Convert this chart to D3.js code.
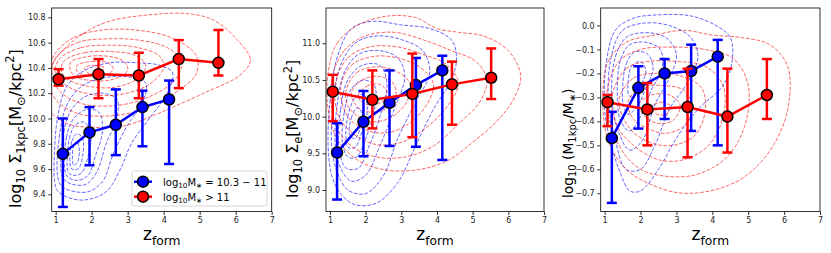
<!DOCTYPE html>
<html>
<head>
<meta charset="utf-8">
<script src="https://cdn.jsdelivr.net/npm/d3@7"></script>
<style>
  body { margin: 0; background: #fff; }
  text { font-family: "DejaVu Sans", sans-serif; }
</style>
</head>
<body>
<script>
// formation redshift of the bins
zBlue = [1.20, 1.94, 2.67, 3.41, 4.15]
zRed = [1.08, 2.19, 3.31, 4.42, 5.52]

// panel 1: log Sigma_1kpc
s1Blue = [9.72, 9.89, 9.95, 10.09, 10.15]
s1BlueLo = [9.30, 9.63, 9.71, 9.78, 9.64]
s1BlueHi = [10.00, 10.09, 10.23, 10.22, 10.30]
s1Red = [10.31, 10.35, 10.34, 10.47, 10.44]
s1RedLo = [10.26, 10.16, 10.16, 10.24, 10.34]
s1RedHi = [10.39, 10.47, 10.52, 10.62, 10.70]

// panel 2: log Sigma_e
seBlue = [9.51, 9.93, 10.19, 10.43, 10.63]
seBlueLo = [8.87, 9.46, 9.60, 9.59, 9.41]
seBlueHi = [9.91, 10.35, 10.63, 10.80, 10.83]
seRed = [10.34, 10.23, 10.31, 10.44, 10.53]
seRedLo = [9.94, 9.84, 9.72, 9.89, 10.24]
seRedHi = [10.57, 10.63, 10.86, 10.75, 10.93]

// panel 3: log M_1kpc/M_*
frBlue = [-0.47, -0.26, -0.20, -0.19, -0.13]
frBlueLo = [-0.74, -0.43, -0.39, -0.44, -0.50]
frBlueHi = [-0.36, -0.17, -0.14, -0.08, -0.06]
frRed = [-0.32, -0.35, -0.34, -0.38, -0.29]
frRedLo = [-0.42, -0.50, -0.55, -0.53, -0.39]
frRedHi = [-0.29, -0.24, -0.18, -0.18, -0.14]

xTicks = [1, 2, 3, 4, 5, 6, 7]
s1Ticks = [9.4, 9.6, 9.8, 10.0, 10.2, 10.4, 10.6, 10.8]
seTicks = [9.0, 9.5, 10.0, 10.5, 11.0]
frTicks = [0.0, -0.1, -0.2, -0.3, -0.4, -0.5, -0.6, -0.7]

legendLabels = [["log", ["10", "sub"], "M", ["∗", "sub"], " = 10.3 − 11"],
                ["log", ["10", "sub"], "M", ["∗", "sub"], " > 11"]]

// density contours (outer to inner)
c1Red = [
  [[1.02,10.48],[1.76,10.67],[2.5,10.77],[3.61,10.82],[4.63,10.83],[5.37,10.78],[6.02,10.63],[6.41,10.46],[6.11,10.34],[5.19,10.21],[4.26,10.09],[3.52,10.0],[2.87,9.94],[2.04,9.93],[1.3,9.96],[0.83,10.07],[0.74,10.28]],
  [[0.95,10.5],[1.5,10.64],[2.3,10.7],[3.2,10.7],[4.2,10.64],[4.9,10.5],[4.9,10.35],[4.3,10.2],[3.4,10.07],[2.5,10.02],[1.6,10.04],[1.0,10.15],[0.8,10.32]],
  [[1.0,10.48],[1.6,10.6],[2.4,10.63],[3.3,10.62],[4.1,10.56],[4.5,10.45],[4.3,10.3],[3.5,10.16],[2.6,10.1],[1.7,10.12],[1.1,10.22],[0.9,10.36]],
  [[1.1,10.47],[1.7,10.56],[2.5,10.58],[3.3,10.56],[3.9,10.49],[4.0,10.4],[3.6,10.27],[2.8,10.19],[2.0,10.19],[1.3,10.26],[1.0,10.37]],
  [[1.25,10.46],[1.8,10.52],[2.5,10.53],[3.2,10.5],[3.5,10.42],[3.3,10.32],[2.7,10.25],[2.0,10.25],[1.4,10.3],[1.15,10.38]],
  [[1.4,10.44],[1.9,10.49],[2.5,10.49],[2.9,10.45],[3.0,10.38],[2.6,10.31],[2.0,10.3],[1.5,10.34]],
  [[1.6,10.42],[2.0,10.45],[2.45,10.44],[2.6,10.39],[2.35,10.34],[1.9,10.34],[1.6,10.37]],
  [[1.8,10.4],[2.1,10.42],[2.35,10.4],[2.2,10.36],[1.9,10.36]]
]
c1Blue = [
  [[0.97,9.5],[0.97,9.75],[1.05,10.0],[1.3,10.25],[1.8,10.38],[2.5,10.44],[3.3,10.44],[3.9,10.42],[4.25,10.36],[4.1,10.2],[3.6,10.0],[3.1,9.8],[2.8,9.6],[2.4,9.42],[1.8,9.355],[1.3,9.38],[1.05,9.43]],
  [[1.05,9.55],[1.1,9.85],[1.3,10.1],[1.7,10.25],[2.3,10.32],[3.0,10.33],[3.5,10.28],[3.4,10.12],[3.0,9.95],[2.6,9.72],[2.3,9.5],[1.9,9.42],[1.4,9.43],[1.15,9.47]],
  [[1.15,9.58],[1.2,9.85],[1.4,10.05],[1.8,10.17],[2.3,10.2],[2.7,10.15],[2.7,10.0],[2.4,9.8],[2.15,9.58],[1.85,9.48],[1.45,9.48],[1.22,9.52]],
  [[1.25,9.6],[1.3,9.85],[1.5,10.0],[1.85,10.07],[2.2,10.05],[2.3,9.9],[2.1,9.7],[1.9,9.55],[1.6,9.51],[1.33,9.54]],
  [[1.32,9.62],[1.38,9.84],[1.55,9.95],[1.8,9.97],[1.98,9.88],[1.9,9.7],[1.72,9.57],[1.5,9.55],[1.36,9.57]],
  [[1.4,9.64],[1.45,9.82],[1.6,9.88],[1.75,9.84],[1.75,9.7],[1.62,9.6],[1.45,9.6]],
  [[1.47,9.66],[1.5,9.78],[1.6,9.81],[1.66,9.74],[1.6,9.65],[1.5,9.63]]
]
c2Red = [
  [[0.95,10.6],[1.2,11.0],[1.8,11.25],[2.6,11.37],[3.4,11.35],[4.0,11.2],[4.6,11.15],[5.3,11.1],[6.0,10.9],[6.35,10.55],[6.1,10.2],[5.6,9.9],[5.0,9.65],[4.3,9.4],[3.5,9.28],[2.6,9.27],[1.8,9.4],[1.2,9.7],[0.95,10.1]],
  [[1.05,10.5],[1.4,10.9],[2.0,11.1],[2.8,11.15],[3.6,11.05],[4.4,10.9],[5.1,10.75],[5.4,10.5],[5.2,10.2],[4.6,9.9],[3.9,9.6],[3.1,9.45],[2.3,9.45],[1.6,9.6],[1.15,9.9]],
  [[1.15,10.45],[1.5,10.8],[2.1,10.95],[2.9,10.95],[3.6,10.85],[4.3,10.7],[4.6,10.45],[4.3,10.15],[3.7,9.85],[3.0,9.65],[2.3,9.62],[1.7,9.75],[1.25,10.0]],
  [[1.3,10.4],[1.6,10.7],[2.2,10.82],[2.9,10.8],[3.5,10.68],[3.9,10.45],[3.7,10.15],[3.2,9.9],[2.6,9.78],[2.0,9.82],[1.5,10.0]],
  [[1.45,10.35],[1.75,10.6],[2.3,10.68],[2.85,10.62],[3.25,10.45],[3.15,10.2],[2.75,10.0],[2.25,9.93],[1.8,10.0],[1.5,10.15]],
  [[1.6,10.32],[1.9,10.5],[2.35,10.55],[2.75,10.47],[2.85,10.3],[2.6,10.12],[2.2,10.06],[1.8,10.12]],
  [[1.8,10.3],[2.05,10.42],[2.4,10.44],[2.6,10.33],[2.45,10.2],[2.1,10.16],[1.85,10.22]]
]
c2Blue = [
  [[0.95,9.6],[1.0,10.2],[1.2,10.8],[1.6,11.2],[2.2,11.3],[3.0,11.25],[3.8,11.2],[4.4,11.05],[4.55,10.8],[4.4,10.5],[3.9,10.1],[3.4,9.6],[2.9,9.1],[2.3,8.82],[1.7,8.8],[1.3,8.95],[1.05,9.2]],
  [[1.05,9.6],[1.1,10.2],[1.3,10.7],[1.7,11.0],[2.3,11.1],[3.0,11.05],[3.6,10.9],[3.8,10.6],[3.4,10.2],[2.9,9.7],[2.5,9.2],[2.0,8.95],[1.5,9.0],[1.2,9.25]],
  [[1.15,9.6],[1.2,10.15],[1.4,10.6],[1.8,10.85],[2.4,10.9],[2.9,10.8],[3.1,10.55],[2.8,10.1],[2.4,9.6],[2.0,9.2],[1.6,9.12],[1.3,9.3]],
  [[1.25,9.6],[1.3,10.1],[1.5,10.5],[1.9,10.7],[2.4,10.7],[2.6,10.45],[2.4,10.0],[2.1,9.6],[1.8,9.3],[1.45,9.3]],
  [[1.35,9.65],[1.4,10.05],[1.6,10.38],[1.95,10.5],[2.25,10.42],[2.25,10.1],[2.0,9.7],[1.75,9.45],[1.5,9.45]],
  [[1.45,9.7],[1.5,10.0],[1.7,10.25],[1.95,10.3],[2.05,10.1],[1.9,9.8],[1.7,9.58],[1.52,9.58]],
  [[1.55,9.75],[1.6,9.98],[1.75,10.12],[1.9,10.05],[1.85,9.85],[1.7,9.7]]
]
c3Red = [
  [[0.95,-0.3],[1.1,-0.15],[1.6,-0.07],[2.4,-0.04],[3.2,-0.02],[4.0,-0.04],[4.8,-0.05],[5.6,-0.08],[6.1,-0.17],[6.1,-0.35],[5.7,-0.5],[5.0,-0.62],[4.2,-0.68],[3.2,-0.7],[2.4,-0.67],[1.6,-0.6],[1.1,-0.48]],
  [[1.05,-0.3],[1.4,-0.15],[2.0,-0.1],[2.9,-0.09],[3.8,-0.1],[4.6,-0.14],[5.0,-0.25],[4.9,-0.42],[4.4,-0.55],[3.6,-0.62],[2.8,-0.63],[2.0,-0.6],[1.4,-0.5]],
  [[1.2,-0.3],[1.6,-0.18],[2.2,-0.15],[3.0,-0.15],[3.8,-0.17],[4.3,-0.25],[4.3,-0.38],[3.9,-0.5],[3.2,-0.56],[2.5,-0.56],[1.8,-0.5],[1.35,-0.42]],
  [[1.4,-0.31],[1.8,-0.22],[2.4,-0.2],[3.1,-0.21],[3.7,-0.26],[3.8,-0.36],[3.5,-0.46],[2.9,-0.5],[2.3,-0.49],[1.7,-0.43]],
  [[1.65,-0.32],[2.0,-0.26],[2.6,-0.25],[3.2,-0.27],[3.45,-0.34],[3.2,-0.42],[2.7,-0.45],[2.2,-0.43],[1.8,-0.39]],
  [[1.95,-0.33],[2.3,-0.29],[2.8,-0.29],[3.1,-0.33],[2.95,-0.39],[2.6,-0.41],[2.2,-0.39]],
  [[2.3,-0.34],[2.6,-0.32],[2.85,-0.34],[2.7,-0.37],[2.45,-0.37]]
]
c3Blue = [
  [[1.0,-0.35],[1.05,-0.15],[1.3,-0.02],[1.8,0.03],[2.6,0.045],[3.4,0.04],[4.1,0.0],[4.5,-0.05],[4.55,-0.15],[4.3,-0.25],[3.6,-0.35],[3.0,-0.47],[2.5,-0.6],[2.0,-0.69],[1.7,-0.69],[1.4,-0.6],[1.15,-0.48]],
  [[1.1,-0.3],[1.2,-0.12],[1.5,-0.02],[2.1,0.01],[2.8,0.0],[3.4,-0.05],[3.6,-0.13],[3.3,-0.24],[2.8,-0.35],[2.4,-0.5],[2.0,-0.6],[1.6,-0.6],[1.3,-0.48]],
  [[1.2,-0.3],[1.3,-0.13],[1.6,-0.05],[2.1,-0.03],[2.7,-0.05],[3.0,-0.12],[2.8,-0.22],[2.4,-0.33],[2.05,-0.48],[1.7,-0.52],[1.4,-0.45]],
  [[1.35,-0.28],[1.45,-0.14],[1.7,-0.08],[2.15,-0.07],[2.55,-0.1],[2.6,-0.18],[2.3,-0.27],[2.0,-0.38],[1.7,-0.44],[1.45,-0.4]],
  [[1.5,-0.27],[1.6,-0.16],[1.85,-0.11],[2.2,-0.12],[2.35,-0.18],[2.15,-0.26],[1.9,-0.34],[1.65,-0.37],[1.52,-0.33]],
  [[1.65,-0.25],[1.75,-0.17],[2.0,-0.15],[2.15,-0.19],[2.0,-0.25],[1.8,-0.3],[1.67,-0.29]]
]

svgWidth = 831
svgHeight = 253
plotTop = 8
plotBottom = 211.5
BLUE = "#0000ff"
RED = "#ff0000"

panels = [
  { left: 51.7, right: 271.7, ydom: [9.264, 10.874], yticks: s1Ticks,
    blue: [s1Blue, s1BlueLo, s1BlueHi], red: [s1Red, s1RedLo, s1RedHi],
    cBlue: c1Blue, cRed: c1Red, labelX: 20.5, labelY: 208, labelSize: 16,
    label: ["log", ["10", "sub"], " Σ", ["1kpc", "sub"], "[M", ["⊙", "sub"], "/kpc", ["2", "sup"], "]"],
    legend: true },
  { left: 326, right: 544, ydom: [8.707, 11.481], yticks: seTicks,
    blue: [seBlue, seBlueLo, seBlueHi], red: [seRed, seRedLo, seRedHi],
    cBlue: c2Blue, cRed: c2Red, labelX: 298, labelY: 198, labelSize: 16,
    label: ["log", ["10", "sub"], " Σ", ["e", "sub"], "[M", ["⊙", "sub"], "/kpc", ["2", "sup"], "]"] },
  { left: 600.7, right: 820, ydom: [-0.776, 0.073], yticks: frTicks,
    blue: [frBlue, frBlueLo, frBlueHi], red: [frRed, frRedLo, frRedHi],
    cBlue: c3Blue, cRed: c3Red, labelX: 572.5, labelY: 198, labelSize: 13.8,
    label: ["log", ["10", "sub"], " (M", ["1kpc", "sub"], "/M", ["∗", "sub"], ")"] }
]

svg = d3.select("body").append("svg").attr("width", svgWidth).attr("height", svgHeight)

// write mathtext-like segments into a text node with tspans
function rich(text, segs, size) {
  let shift = 0
  segs.forEach(s => {
    const [t, kind] = typeof s === "string" ? [s, null] : s
    const target = kind === "sub" ? size * 0.28 : kind === "sup" ? -size * 0.4 : 0
    text.append("tspan")
      .attr("dy", target - shift)
      .attr("font-size", kind ? size * 0.72 : size)
      .text(t)
    shift = target
  })
}

function drawSeries(g, x, y, zs, vals, color) {
  const [v, lo, hi] = vals
  const pts = zs.map((z, i) => ({ z, v: v[i], lo: lo[i], hi: hi[i] }))
  const eb = g.append("g").attr("stroke", color).attr("stroke-width", 2.5)
  eb.selectAll(".bar").data(pts).join("line")
    .attr("x1", d => x(d.z)).attr("x2", d => x(d.z))
    .attr("y1", d => y(d.lo)).attr("y2", d => y(d.hi))
  eb.selectAll(".cap").data(pts.flatMap(d => [d.lo, d.hi].map(c => ({ z: d.z, c })))).join("line")
    .attr("x1", d => x(d.z) - 5).attr("x2", d => x(d.z) + 5)
    .attr("y1", d => y(d.c)).attr("y2", d => y(d.c))
  g.append("path").datum(pts)
    .attr("fill", "none").attr("stroke", color).attr("stroke-width", 2.5)
    .attr("d", d3.line().x(d => x(d.z)).y(d => y(d.v)))
  g.selectAll(null).data(pts).join("circle")
    .attr("cx", d => x(d.z)).attr("cy", d => y(d.v)).attr("r", 5.5)
    .attr("fill", color).attr("stroke", "#000").attr("stroke-width", 1.5)
}

panels.forEach((p, k) => {
  const x = d3.scaleLinear().domain([0.89, 7]).range([p.left, p.right])
  const y = d3.scaleLinear().domain(p.ydom).range([plotBottom, plotTop])
  const g = svg.append("g")

  const clipId = "clip" + k
  svg.append("clipPath").attr("id", clipId).append("rect")
    .attr("x", p.left).attr("y", plotTop).attr("width", p.right - p.left).attr("height", plotBottom - plotTop)

  const contour = d3.line().x(d => x(d[0])).y(d => y(d[1])).curve(d3.curveCatmullRomClosed.alpha(0.5))
  const cg = g.append("g").attr("clip-path", `url(#${clipId})`)
  ;[[p.cBlue, BLUE], [p.cRed, RED]].forEach(([levels, color]) => {
    cg.selectAll(null).data(levels).join("path")
      .attr("d", contour)
      .attr("fill", "none").attr("stroke", color).attr("stroke-opacity", 0.6)
      .attr("stroke-width", 1).attr("stroke-dasharray", "3.7,1.6")
  })

  drawSeries(g, x, y, zBlue, p.blue, BLUE)
  drawSeries(g, x, y, zRed, p.red, RED)

  // axes
  const xa = g.append("g").attr("transform", `translate(0,${plotBottom})`)
    .call(d3.axisBottom(x).tickValues(xTicks).tickSize(3.5).tickPadding(2.5).tickFormat(d3.format("d")))
  const ya = g.append("g").attr("transform", `translate(${p.left},0)`)
    .call(d3.axisLeft(y).tickValues(p.yticks).tickSize(3.5).tickPadding(2.5).tickFormat(d3.format(".1f")))
  ;[xa, ya].forEach(a => {
    a.select(".domain").remove()
    a.selectAll("line").attr("stroke", "#000").attr("stroke-width", 0.8)
    a.selectAll("text").attr("font-size", 8).attr("fill", "#222")
      .attr("font-family", "DejaVu Sans")
  })
  g.append("rect").attr("x", p.left).attr("y", plotTop)
    .attr("width", p.right - p.left).attr("height", plotBottom - plotTop)
    .attr("fill", "none").attr("stroke", "#000").attr("stroke-width", 0.8)

  // labels
  const xl = g.append("text").attr("x", (p.left + p.right) / 2).attr("y", 240)
    .attr("text-anchor", "middle").attr("fill", "#000")
  rich(xl, ["z", ["form", "sub"]], 17)
  const yl = g.append("text").attr("transform", `translate(${p.labelX},${p.labelY}) rotate(-90)`)
    .attr("fill", "#000")
  rich(yl, p.label, p.labelSize)

  if (p.legend) {
    const lg = g.append("g")
    lg.append("rect").attr("x", 132).attr("y", 171).attr("width", 135).attr("height", 35)
      .attr("rx", 2.5).attr("fill", "#fff").attr("fill-opacity", 0.8)
      .attr("stroke", "#ccc").attr("stroke-width", 0.8)
    ;[BLUE, RED].forEach((color, i) => {
      const cy = 181.7 + i * 15
      lg.append("line").attr("x1", 134).attr("x2", 152).attr("y1", cy).attr("y2", cy)
        .attr("stroke", color).attr("stroke-width", 2.5)
      lg.append("circle").attr("cx", 143).attr("cy", cy).attr("r", 5.5)
        .attr("fill", color).attr("stroke", "#000").attr("stroke-width", 1.5)
      const t = lg.append("text").attr("x", 163).attr("y", cy + 3.8).attr("fill", "#000")
      rich(t, legendLabels[i], 10)
    })
  }
})
</script>
</body>
</html>
